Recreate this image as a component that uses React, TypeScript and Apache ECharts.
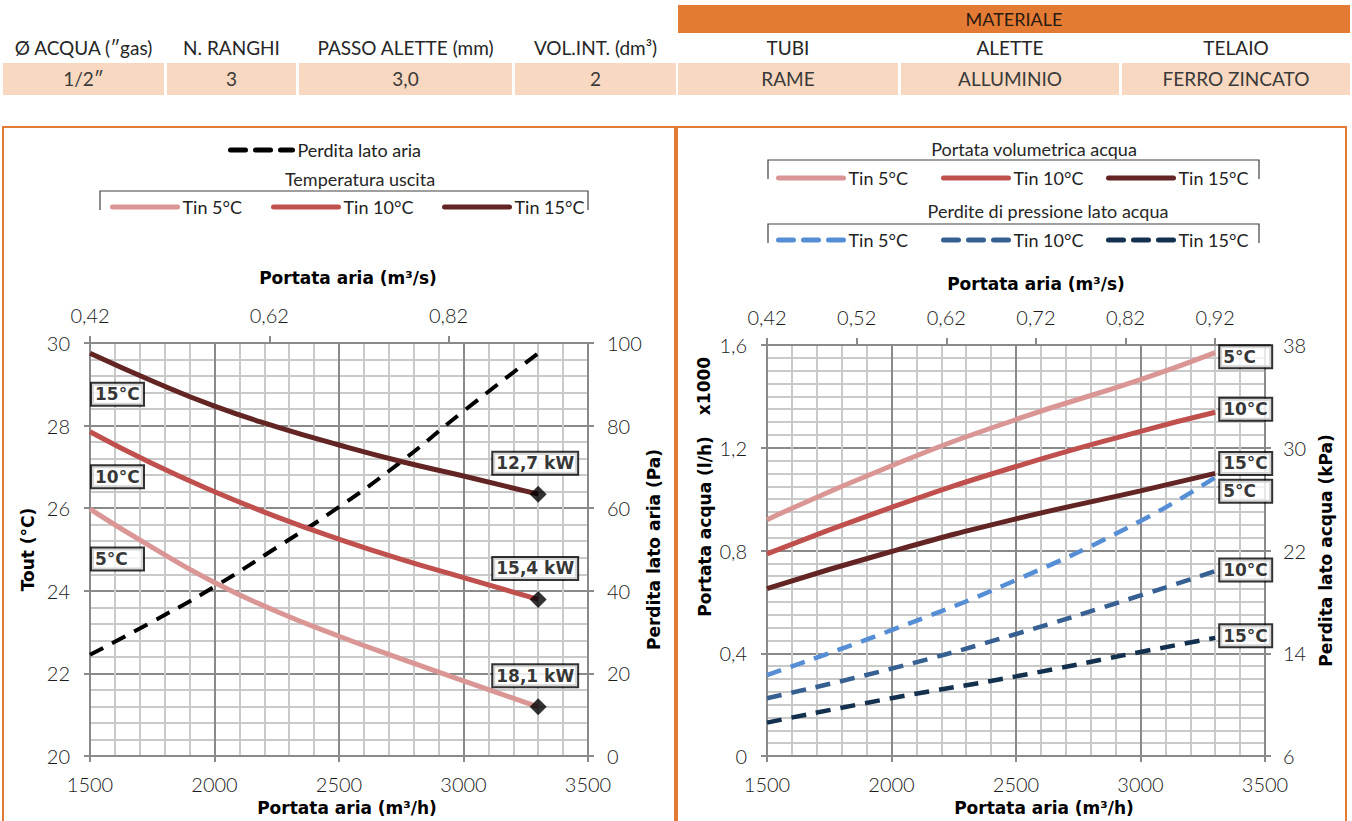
import React, { useEffect, useRef } from 'react';
import * as echarts from 'echarts';

// ---------------- DATA ----------------
// Left chart: outlet temperature vs air flow, and air-side pressure drop
const airflow = [1500, 1750, 2000, 2250, 2500, 2750, 3000, 3300];
const toutTin5 = [25.98, 25.05, 24.2, 23.5, 22.9, 22.35, 21.82, 21.19];
const toutTin10 = [27.85, 27.08, 26.4, 25.79, 25.25, 24.76, 24.32, 23.79];
const toutTin15 = [29.75, 29.08, 28.47, 27.97, 27.53, 27.13, 26.78, 26.34];
const airPressureDrop = [24.5, 32.5, 41, 50.5, 60.3, 71.3, 83.5, 97.5];
const capacityLabels = ['18,1 kW', '15,4 kW', '12,7 kW']; // Tin 5, 10, 15
const tinLabels = ['5°C', '10°C', '15°C'];

// Right chart: water flow (x1000 l/h) and water-side pressure drop (kPa)
const waterAirflow = [1500, 2000, 2500, 3000, 3300];
const waterFlowTin5 = [0.92, 1.13, 1.31, 1.465, 1.57];
const waterFlowTin10 = [0.787, 0.968, 1.127, 1.264, 1.338];
const waterFlowTin15 = [0.652, 0.796, 0.923, 1.032, 1.1];
const waterDropTin5 = [12.3, 15.8, 19.7, 24.3, 27.7];
const waterDropTin10 = [10.5, 12.8, 15.5, 18.5, 20.4];
const waterDropTin15 = [8.6, 10.5, 12.2, 14.1, 15.2];

// Axes
const airflowMin = 1500;
const airflowMax = 3500;
const airflowStep = 500;
const m3sStepLeft = 0.2;
const m3sStepRight = 0.1;
const toutTicks = [20, 30, 2];
const paTicks = [0, 100, 20];
const waterFlowTicks = [0, 1.6, 0.4];
const kPaTicks = [6, 14, 22, 30, 38];

// Table
const tableHeaders = ['Ø ACQUA (″gas)', 'N. RANGHI', 'PASSO ALETTE (mm)', 'VOL.INT. (dm³)', 'TUBI', 'ALETTE', 'TELAIO'];
const tableValues = ['1/2″', '3', '3,0', '2', 'RAME', 'ALLUMINIO', 'FERRO ZINCATO'];
const materialTitle = 'MATERIALE';

const legendText: Record<string, string> = {
  aria: 'Perdita lato aria',
  L5: 'Tin 5°C', L10: 'Tin 10°C', L15: 'Tin 15°C',
  R5: 'Tin 5°C', R10: 'Tin 10°C', R15: 'Tin 15°C',
  D5: 'Tin 5°C', D10: 'Tin 10°C', D15: 'Tin 15°C',
};

// ---------------- STYLE ----------------
const FONT = 'Lato, "DejaVu Sans", sans-serif';
const BOLD_FONT = '"DejaVu Sans", sans-serif';
const ORANGE = '#E47B35';
const PEACH = '#F8D8C0';
const C5 = '#D99694';
const C10 = '#C0504D';
const C15 = '#632523';
const B5 = '#558ED5';
const B10 = '#376092';
const B15 = '#13304F';
const MAJOR = '#8A8A8A';
const MINOR = '#C9C9C9';

const labelStyle = { fontFamily: FONT, fontSize: 20, color: '#1a1a1a', fontWeight: 300 as any };
const nameStyle = { fontFamily: BOLD_FONT, fontSize: 17, fontWeight: 'bold' as any, color: '#000' };
const comma = (v: number, d: number) => v.toFixed(d).replace('.', ',');
const pairs = (xs: number[], ys: number[]) => xs.map((x, i) => [x, ys[i]]);
const range = (a: number, b: number, s: number) => {
  const out: number[] = [];
  for (let v = a; v <= b + 1e-9; v += s) out.push(v);
  return out;
};

function bottomX(gridIndex: number, shift: number) {
  return {
    type: 'value', gridIndex, position: 'bottom', min: airflowMin, max: airflowMax, interval: airflowStep,
    name: 'Portata aria (m³/h)', nameLocation: 'middle', nameGap: 43,
    nameTextStyle: { ...nameStyle, padding: [0, 0, 0, shift] },
    axisLine: { show: true, onZero: false, lineStyle: { color: MAJOR, width: 2 } },
    axisTick: { show: true, length: 6, lineStyle: { color: MAJOR, width: 2 } },
    axisLabel: { ...labelStyle, margin: 18, formatter: (v: number) => String(v) },
    splitLine: { show: true, lineStyle: { color: MAJOR, width: 2 } },
    minorTick: { show: false, splitNumber: 5 },
    minorSplitLine: { show: true, lineStyle: { color: MINOR, width: 2 } },
  };
}

function topX(gridIndex: number, stepM3s: number, nameGap: number, shift: number) {
  const ticks = range(airflowMin, airflowMax - 1, stepM3s * 3600);
  return {
    type: 'value', gridIndex, position: 'top', min: airflowMin, max: airflowMax,
    name: 'Portata aria (m³/s)', nameLocation: 'middle', nameGap,
    nameTextStyle: { ...nameStyle, padding: [0, 0, 0, shift] },
    axisLine: { show: true, onZero: false, lineStyle: { color: MAJOR, width: 2 } },
    axisTick: { show: true, length: 7, customValues: ticks, lineStyle: { color: MAJOR, width: 2 } },
    axisLabel: { ...labelStyle, margin: 18, customValues: ticks, formatter: (v: number) => comma(v / 3600, 2) },
    splitLine: { show: false },
  };
}

function boxLabel(text: string, offset: number[], fixedWidth: boolean) {
  const base: any = {
    show: true, formatter: text, position: 'inside', offset,
    fontFamily: BOLD_FONT, fontSize: 17, fontWeight: 'bold', color: '#000', lineHeight: 19,
    backgroundColor: '#fff', borderColor: '#000', borderWidth: 2, padding: [2, 3, 0, 3],
  };
  if (fixedWidth) {
    base.width = 45;
    base.align = 'left';
  }
  return base;
}

function labelSeries(name: string, xi: number, yi: number, pts: number[][], labels: any[], diamond: boolean) {
  return {
    type: 'scatter', name, xAxisIndex: xi, yAxisIndex: yi, z: 10, silent: true,
    symbol: diamond ? 'diamond' : 'circle', symbolSize: diamond ? 17 : 0.1,
    itemStyle: { color: diamond ? '#000' : 'transparent' },
    data: pts.map((p, i) => ({ value: p, label: labels[i] })),
  };
}

function lineSeries(name: string, xi: number, yi: number, xs: number[], ys: number[], color: string, width: number, dashed: boolean) {
  return {
    type: 'line', name, xAxisIndex: xi, yAxisIndex: yi, data: pairs(xs, ys), smooth: true,
    symbol: 'none', silent: true, z: 3,
    lineStyle: { color, width, type: dashed ? [15, 10] : 'solid', cap: 'butt' },
    itemStyle: { color },
  };
}

function legend(name: string, left: number, centerY: number, width = 65) {
  return {
    data: [name], left, top: centerY - 10, padding: 0, itemWidth: width, itemHeight: 14, itemGap: 0,
    selectedMode: false, formatter: (n: string) => legendText[n],
    itemStyle: { opacity: 0, color: 'transparent', borderWidth: 0 },
    lineStyle: { width: 5, cap: 'round' },
    textStyle: { fontFamily: FONT, fontSize: 18, color: '#222', lineHeight: 20 },
  };
}

const txt = (text: string, x: number, y: number, extra: any = {}) => ({
  type: 'text', x, y, silent: true,
  style: { text, fontFamily: FONT, fontSize: 18, fill: '#262626', align: 'center', verticalAlign: 'middle', ...extra },
});

const bracket = (x1: number, x2: number, yTop: number, yBot: number) => ({
  type: 'polyline', silent: true,
  shape: { points: [[x1, yBot], [x1, yTop], [x2, yTop], [x2, yBot]] },
  style: { stroke: '#404040', lineWidth: 1.2, fill: 'none' },
});

const tableCols = [[3, 164], [167, 296], [299, 512], [515, 676], [678, 898], [901, 1119], [1122, 1350]];

function buildOption() {
  const last = airflow.length - 1;
  const wl = waterAirflow.length - 1;

  const graphic: any[] = [
    // table
    { type: 'rect', silent: true, shape: { x: 678, y: 5, width: 672, height: 28 }, style: { fill: ORANGE } },
    txt(materialTitle, 1014, 19, { fontSize: 18, fill: '#2a1a10' }),
    ...tableCols.map(([a, b]) => ({ type: 'rect', silent: true, shape: { x: a, y: 63, width: b - a, height: 32 }, style: { fill: PEACH } })),
    ...tableHeaders.map((h, i) => txt(h, (tableCols[i][0] + tableCols[i][1]) / 2, 47, { fontSize: 19 })),
    ...tableValues.map((v, i) => txt(v, (tableCols[i][0] + tableCols[i][1]) / 2, 78, { fontSize: 19, fill: '#3a3a3a' })),
    // frames
    { type: 'rect', silent: true, shape: { x: 3, y: 127, width: 672, height: 720 }, style: { fill: 'none', stroke: ORANGE, lineWidth: 2 } },
    { type: 'rect', silent: true, shape: { x: 677, y: 127, width: 669, height: 720 }, style: { fill: 'none', stroke: ORANGE, lineWidth: 2 } },
    // legend titles & brackets
    txt('Temperatura uscita', 360, 179),
    bracket(100, 588, 191, 210),
    txt('Portata volumetrica acqua', 1034, 149),
    bracket(768, 1259, 160, 179),
    txt('Perdite di pressione lato acqua', 1048, 211),
    bracket(768, 1259, 224, 243),
    // x1000 on the water flow axis
    { type: 'text', x: 704, y: 386, rotation: Math.PI / 2, silent: true,
      style: { text: 'x1000', fontFamily: BOLD_FONT, fontSize: 17, fontWeight: 'bold', fill: '#000', align: 'center', verticalAlign: 'middle' } },
  ];

  return {
    animation: false,
    textStyle: { fontFamily: FONT },
    grid: [
      { left: 90, top: 343, width: 498, height: 413 },
      { left: 767, top: 345, width: 498, height: 413 },
    ],
    xAxis: [bottomX(0, 16), topX(0, m3sStepLeft, 57, 18), bottomX(1, 56), topX(1, m3sStepRight, 53, 40)],
    yAxis: [
      {
        type: 'value', gridIndex: 0, position: 'left', min: toutTicks[0], max: toutTicks[1], interval: toutTicks[2],
        name: 'Tout (°C)', nameLocation: 'middle', nameGap: 54, nameTextStyle: nameStyle,
        axisLine: { show: true, lineStyle: { color: MAJOR, width: 2 } },
        axisTick: { show: true, length: 6, lineStyle: { color: MAJOR, width: 2 } },
        axisLabel: { ...labelStyle, margin: 20 },
        splitLine: { show: true, lineStyle: { color: MAJOR, width: 2 } },
        minorTick: { show: false, splitNumber: 5 },
        minorSplitLine: { show: true, lineStyle: { color: MINOR, width: 2 } },
      },
      {
        type: 'value', gridIndex: 0, position: 'right', min: paTicks[0], max: paTicks[1], interval: paTicks[2],
        name: 'Perdita lato aria (Pa)', nameLocation: 'middle', nameGap: 54, nameTextStyle: nameStyle,
        axisLine: { show: true, lineStyle: { color: MAJOR, width: 2 } },
        axisTick: { show: true, length: 6, lineStyle: { color: MAJOR, width: 2 } },
        axisLabel: { ...labelStyle, margin: 19 },
        splitLine: { show: false },
      },
      {
        type: 'value', gridIndex: 1, position: 'left', min: waterFlowTicks[0], max: waterFlowTicks[1], interval: waterFlowTicks[2],
        name: 'Portata acqua (l/h)', nameLocation: 'middle', nameGap: 54,
        nameTextStyle: { ...nameStyle, padding: [0, 0, 0, 48] },
        axisLine: { show: true, lineStyle: { color: MAJOR, width: 2 } },
        axisTick: { show: true, length: 6, lineStyle: { color: MAJOR, width: 2 } },
        axisLabel: { ...labelStyle, margin: 20, formatter: (v: number) => (v === 0 ? '0' : comma(v, 1)) },
        splitLine: { show: true, lineStyle: { color: MAJOR, width: 2 } },
        minorTick: { show: false, splitNumber: 8 },
        minorSplitLine: { show: true, lineStyle: { color: MINOR, width: 2 } },
      },
      {
        type: 'value', gridIndex: 1, position: 'right', min: kPaTicks[0], max: kPaTicks[kPaTicks.length - 1],
        name: 'Perdita lato acqua (kPa)', nameLocation: 'middle', nameGap: 52, nameTextStyle: nameStyle,
        axisLine: { show: true, lineStyle: { color: MAJOR, width: 2 } },
        axisTick: { show: true, length: 6, customValues: kPaTicks, lineStyle: { color: MAJOR, width: 2 } },
        axisLabel: { ...labelStyle, margin: 18, customValues: kPaTicks },
        splitLine: { show: false },
      },
    ],
    legend: [
      legend('aria', 228, 150, 62),
      legend('L5', 110, 207), legend('L10', 271, 207), legend('L15', 442, 207),
      legend('R5', 776, 178), legend('R10', 941, 178), legend('R15', 1106, 178),
      legend('D5', 776, 240), legend('D10', 941, 240), legend('D15', 1106, 240),
    ],
    series: [
      lineSeries('aria', 0, 1, airflow, airPressureDrop, '#000', 4, true),
      lineSeries('L5', 0, 0, airflow, toutTin5, C5, 5, false),
      lineSeries('L10', 0, 0, airflow, toutTin10, C10, 5, false),
      lineSeries('L15', 0, 0, airflow, toutTin15, C15, 5, false),
      labelSeries('startLabels', 0, 0,
        [[airflow[0], toutTin15[0]], [airflow[0], toutTin10[0]], [airflow[0], toutTin5[0]]],
        [boxLabel(tinLabels[2], [2, 41], true), boxLabel(tinLabels[1], [2, 45], true), boxLabel(tinLabels[0], [2, 50], true)], false),
      labelSeries('capacity', 0, 0,
        [[airflow[last], toutTin15[last]], [airflow[last], toutTin10[last]], [airflow[last], toutTin5[last]]],
        [boxLabel(capacityLabels[2], [-3, -31], false), boxLabel(capacityLabels[1], [-3, -31], false), boxLabel(capacityLabels[0], [-3, -31], false)], true),

      lineSeries('R5', 2, 2, waterAirflow, waterFlowTin5, C5, 5, false),
      lineSeries('R10', 2, 2, waterAirflow, waterFlowTin10, C10, 5, false),
      lineSeries('R15', 2, 2, waterAirflow, waterFlowTin15, C15, 5, false),
      lineSeries('D5', 2, 3, waterAirflow, waterDropTin5, B5, 4.5, true),
      lineSeries('D10', 2, 3, waterAirflow, waterDropTin10, B10, 4.5, true),
      lineSeries('D15', 2, 3, waterAirflow, waterDropTin15, B15, 4.5, true),
      labelSeries('flowLabels', 2, 2,
        [[waterAirflow[wl], waterFlowTin5[wl]], [waterAirflow[wl], waterFlowTin10[wl]], [waterAirflow[wl], waterFlowTin15[wl]]],
        [boxLabel(tinLabels[0], [5, 4], true), boxLabel(tinLabels[1], [5, -3], true), boxLabel(tinLabels[2], [5, -10], true)], false),
      labelSeries('dropLabels', 2, 3,
        [[waterAirflow[wl], waterDropTin5[wl]], [waterAirflow[wl], waterDropTin10[wl]], [waterAirflow[wl], waterDropTin15[wl]]],
        [boxLabel(tinLabels[0], [5, 14], true), boxLabel(tinLabels[1], [5, -1], true), boxLabel(tinLabels[2], [5, -2], true)], false),
    ],
    graphic,
  };
}

export default function App() {
  const ref = useRef<HTMLDivElement>(null);
  useEffect(() => {
    document.body.style.margin = '0';
    const chart = echarts.init(ref.current!, null, { renderer: 'svg' });
    chart.setOption(buildOption() as any);
    return () => chart.dispose();
  }, []);
  return <div ref={ref} style={{ width: 1352, height: 821 }} />;
}
